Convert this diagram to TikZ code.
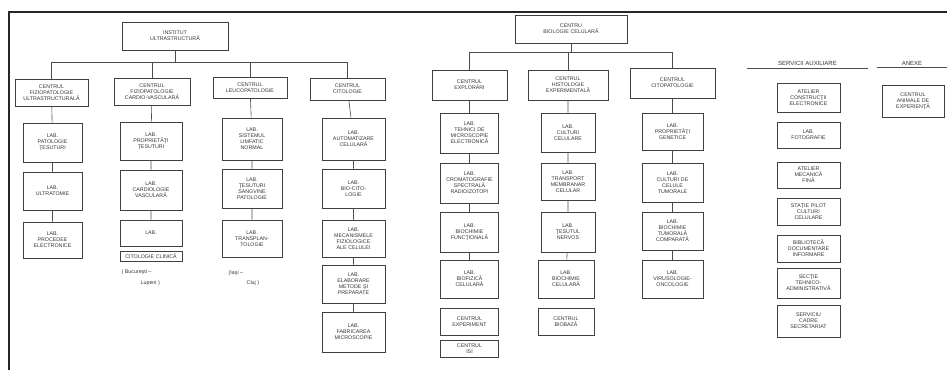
\documentclass[tikz,border=0pt]{standalone}
\usepackage{fontspec}
\setmainfont{Liberation Sans}
\begin{document}
\begin{tikzpicture}[x=1pt,y=-1pt,
  bx/.style={draw=black!75, line width=0.6pt, inner sep=0.5pt, align=center,
     font=\fontsize{5.3}{6.1}\selectfont, text=black!80},
  lnk/.style={draw=black!70, line width=0.6pt},
  note/.style={inner sep=0.5pt, font=\fontsize{5.3}{6.1}\selectfont, text=black!80},
  head/.style={inner sep=0.5pt, font=\fontsize{6}{7}\selectfont, text=black!80}]
\useasboundingbox (0,0) rectangle (947,370);
% frame
\draw[line width=2.2pt, black!85] (9,370) -- (9,12) -- (947,12);
\newcommand\B[6]{\node[bx, minimum width=#4pt, minimum height=#5pt, text width=#4pt-3pt] (#1) at (#2,#3) {#6};}
% ---------- left tree ----------
\B{rL}{175}{36}{106}{28}{INSTITUT\\ULTRASTRUCTURĂ}
\B{c1}{51.5}{92.5}{73}{27}{CENTRUL\\FIZIOPATOLOGIE\\ULTRASTRUCTURALĂ}
\B{c2}{152}{91.5}{76}{27}{CENTRUL\\FIZIOPATOLOGIE\\CARDIO-VASCULARĂ}
\B{c3}{250}{87.5}{74}{21}{CENTRUL\\LEUCOPATOLOGIE}
\B{c4}{347.5}{89}{75}{22}{CENTRUL\\CITOLOGIE}
\coordinate (bL1) at (51.5,62);
\coordinate (bL4) at (347.5,62);
\draw[lnk] (bL1) -- (bL4);
\draw[lnk] (rL.south) -- (rL.south |- bL1);
\foreach \c in {c1,c2,c3,c4} \draw[lnk] (\c.north) -- (\c.north |- bL1);
% col 1
\B{l11}{52.5}{142.5}{59}{39}{LAB.\\PATOLOGIE\\ŢESUTURI}
\B{l12}{52.5}{191}{59}{38}{LAB.\\ULTRATOMIE}
\B{l13}{52.5}{240}{59}{36}{LAB.\\PROCEDEE\\ELECTRONICE}
% col 2
\B{l21}{151}{141}{62}{38}{LAB.\\PROPRIETĂŢI\\ŢESUTURI}
\B{l22}{151}{190}{62}{40}{LAB.\\CARDIOLOGIE\\VASCULARĂ}
\B{l23}{151}{233}{62}{26}{LAB.\\[8pt]}
\B{l24}{151}{256}{62}{10}{CITOLOGIE CLINICĂ}
\node[note, anchor=west] (n21) at (121,272) {( Bucureşti –};
\node[note, anchor=west] (n22) at (140,283) {Lupeni )};
% col 3
\B{l31}{252}{139}{60}{42}{LAB.\\SISTEMUL\\LIMFATIC\\NORMAL}
\B{l32}{252}{188.5}{60}{39}{LAB.\\ŢESUTURI\\SANGVINE\\PATOLOGIE}
\B{l33}{252}{238.5}{60}{37}{LAB.\\TRANSPLAN-\\TOLOGIE}
\node[note, anchor=west] (n31) at (228,273) {(Iaşi –};
\node[note, anchor=west] (n32) at (246,283) {Cluj )};
% col 4
\B{l41}{353.5}{139}{63}{42}{LAB.\\AUTOMATIZARE\\CELULARĂ}
\B{l42}{353.5}{188.5}{63}{39}{LAB.\\BIO-CITO-\\LOGIE}
\B{l43}{353.5}{238.5}{63}{37}{LAB.\\MECANISMELE\\FIZIOLOGICE\\ALE CELULEI}
\B{l44}{353.5}{284}{63}{38}{LAB.\\ELABORARE\\METODE ŞI\\PREPARATE}
\B{l45}{353.5}{332}{63}{40}{LAB.\\FABRICAREA\\MICROSCOPIE}
\draw[lnk] (c1) -- (l11) -- (l12) -- (l13);
\draw[lnk] (c2) -- (l21) -- (l22) -- (l23);
\draw[lnk] (c3) -- (l31) -- (l32) -- (l33);
\draw[lnk] (c4) -- (l41) -- (l42) -- (l43) -- (l44) -- (l45);
% ---------- right tree ----------
\B{rR}{571}{29}{112}{28}{CENTRU\\BIOLOGIE CELULARĂ}
\B{c5}{469.5}{85}{75}{30}{CENTRUL\\EXPLORĂRI}
\B{c6}{568}{85}{80}{30}{CENTRUL\\HISTOLOGIE\\EXPERIMENTALĂ}
\B{c7}{672.5}{83}{85}{30}{CENTRUL\\CITOPATOLOGIE}
\coordinate (bR1) at (469.5,52);
\coordinate (bR3) at (672.5,52);
\draw[lnk] (bR1) -- (bR3);
\draw[lnk] (rR.south) -- (rR.south |- bR1);
\foreach \c in {c5,c6,c7} \draw[lnk] (\c.north) -- (\c.north |- bR1);
% col 5
\B{l51}{469.5}{133}{58}{40}{LAB.\\TEHNICI DE\\MICROSCOPIE\\ELECTRONICĂ}
\B{l52}{469.5}{183}{58}{40}{LAB.\\CROMATOGRAFIE\\SPECTRALĂ\\RADIOIZOTOPI}
\B{l53}{469.5}{232}{58}{40}{LAB.\\BIOCHIMIE\\FUNCŢIONALĂ}
\B{l54}{469.5}{279}{58}{38}{LAB.\\BIOFIZICĂ\\CELULARĂ}
\B{l55}{469.5}{321.5}{58}{27}{CENTRUL\\EXPERIMENT}
\B{l56}{469.5}{348.5}{58}{17}{CENTRUL\\ISI}
% col 6
\B{l61}{568}{132.5}{54}{39}{LAB.\\CULTURI\\CELULARE}
\B{l62}{568}{181.5}{54}{37}{LAB.\\TRANSPORT\\MEMBRANAR\\CELULAR}
\B{l63}{568}{232}{54}{40}{LAB.\\ŢESUTUL\\NERVOS}
\B{l64}{566}{279}{56}{38}{LAB.\\BIOCHIMIE\\CELULARĂ}
\B{l65}{566}{321.5}{56}{27}{CENTRUL\\BIOBAZĂ}
% col 7
\B{l71}{672.5}{131.5}{61}{37}{LAB.\\PROPRIETĂŢI\\GENETICE}
\B{l72}{672.5}{182.5}{61}{39}{LAB.\\CULTURI DE\\CELULE\\TUMORALE}
\B{l73}{672.5}{231}{61}{38}{LAB.\\BIOCHIMIE\\TUMORALĂ\\COMPARATĂ}
\B{l74}{672.5}{279}{61}{38}{LAB.\\VIRUSOLOGIE-\\ONCOLOGIE}
\draw[lnk] (c5) -- (l51) -- (l52) -- (l53) -- (l54);
\draw[lnk] (c6) -- (l61) -- (l62) -- (l63) -- (l64);
\draw[lnk] (c7) -- (l71) -- (l72) -- (l73) -- (l74);
% ---------- auxiliary ----------
\node[head, minimum width=121pt] (ha) at (807.5,63) {SERVICII AUXILIARE};
\node[head, minimum width=70pt] (hx) at (912,63) {ANEXE};
\draw[lnk] ([yshift=-2pt]ha.south west) -- ([yshift=-2pt]ha.south east);
\draw[lnk] ([yshift=-2pt]hx.south west) -- ([yshift=-2pt]hx.south east);
\B{a1}{808.5}{97.5}{63}{29}{ATELIER\\CONSTRUCŢII\\ELECTRONICE}
\B{a2}{808.5}{135}{63}{26}{LAB.\\FOTOGRAFIE}
\B{a3}{808.5}{175}{63}{26}{ATELIER\\MECANICĂ\\FINĂ}
\B{a4}{808.5}{211.5}{63}{27}{STAŢIE PILOT\\CULTURI\\CELULARE}
\B{a5}{808.5}{248.5}{63}{27}{BIBLIOTECĂ\\DOCUMENTARE\\INFORMARE}
\B{a6}{808.5}{283}{63}{30}{SECŢIE\\TEHNICO-\\ADMINISTRATIVĂ}
\B{a7}{808.5}{321}{63}{32}{SERVICIU\\CADRE\\SECRETARIAT}
\B{x1}{913}{101}{62}{32}{CENTRUL\\ANIMALE DE\\EXPERIENŢĂ}
\end{tikzpicture}
\end{document}
